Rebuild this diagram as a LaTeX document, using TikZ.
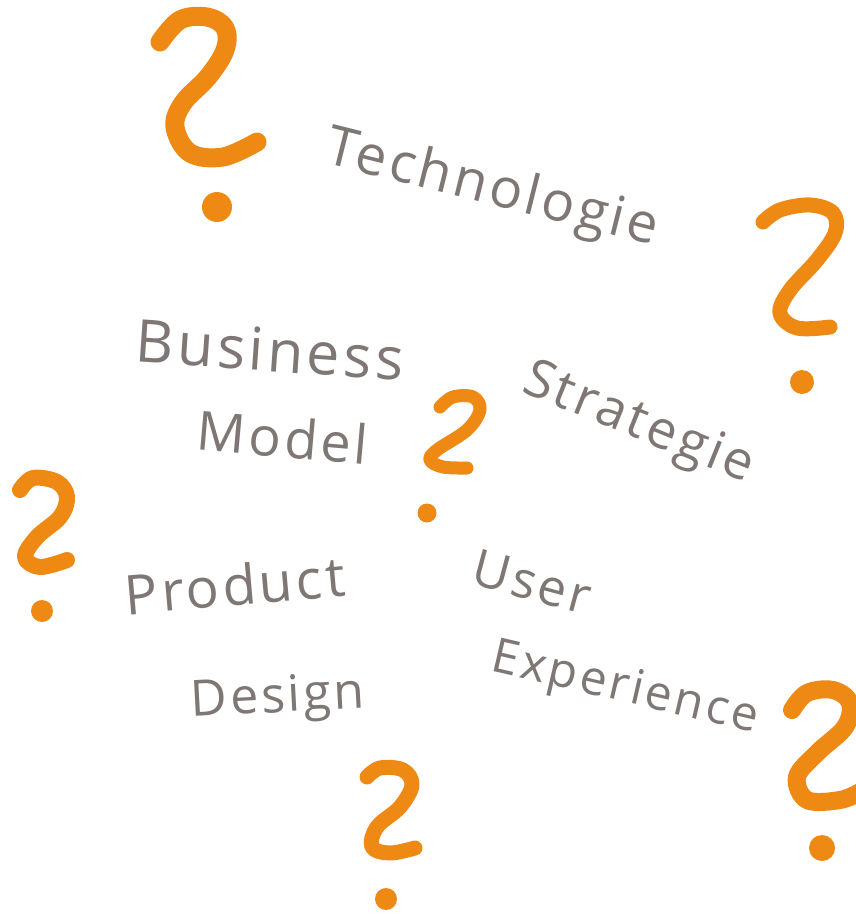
\documentclass[tikz,border=0pt]{standalone}
\usepackage{fontspec}
\setmainfont{Open Sans}
\newfontfamily\handfont[LetterSpace=6]{Open Sans}
\definecolor{qorange}{HTML}{EE8A14}
\definecolor{ink}{HTML}{7E7774}
\begin{document}
\begin{tikzpicture}[x=1pt,y=-1pt,
  qm/.style={draw=qorange,line cap=round,line join=round},
  qdot/.style={fill=qorange},
  word/.style={text=ink,inner sep=0pt,font=\handfont\fontsize{#1}{#1}\selectfont}]
\fill[white] (0,0) rectangle (856,915);
\useasboundingbox (0,0) rectangle (856,915);
% question mark 1 (top left)
\draw[qm,line width=19] plot[smooth,tension=0.6] coordinates {(160,42) (180,20) (207,17) (225,28) (225,50) (208,77) (183,103) (175,127) (190,153) (223,157) (257,142)};
\fill[qdot] (217,207) circle (15);
% question mark 2 (right)
\draw[qm,line width=15] plot[smooth,tension=0.6] coordinates {(763,222) (780,210) (810,205) (833,213) (835,233) (817,260) (790,290) (780,313) (797,328) (830,327)};
\fill[qdot] (802,382) circle (12);
% question mark 3 (centre)
\draw[qm,line width=13] plot[smooth,tension=0.6] coordinates {(440,407) (453,397) (473,397) (480,410) (467,430) (437,450) (430,460) (443,467) (467,468)};
\fill[qdot] (427,513) circle (9.5);
% question mark 4 (left)
\draw[qm,line width=16] plot[smooth,tension=0.6] coordinates {(20,490) (33,478) (57,482) (67,497) (60,517) (37,537) (25,557) (40,567) (67,560)};
\fill[qdot] (42,611) circle (11);
% question mark 5 (bottom centre)
\draw[qm,line width=15] plot[smooth,tension=0.6] coordinates {(367,777) (380,768) (403,770) (412,785) (400,807) (377,827) (372,847) (390,853) (415,848)};
\fill[qdot] (386,899) circle (11);
% question mark 6 (bottom right)
\draw[qm,line width=18] plot[smooth,tension=0.6] coordinates {(792,710) (807,693) (833,690) (850,703) (845,727) (817,753) (797,777) (807,800) (840,800) (860,792)};
\fill[qdot] (822,848) circle (13);
% words
\node[word=55,rotate=-14] (tech) at (492,190) {Technologie};
\node[word=59,rotate=-4] (bus) at (270,350) {Business};
\node[word=54,rotate=-5] (model) at (283,437) {Model};
\node[word=53,rotate=-22] (strat) at (638,425) {Strategie};
\node[word=55,rotate=5] (prod) at (235,585) {Product};
\node[word=50,rotate=3] (design) at (278,700) {Design};
\node[word=51,rotate=-15] (user) at (532,582) {User};
\node[word=48,rotate=-13] (exp) at (625,690) {Experience};
\end{tikzpicture}
\end{document}
